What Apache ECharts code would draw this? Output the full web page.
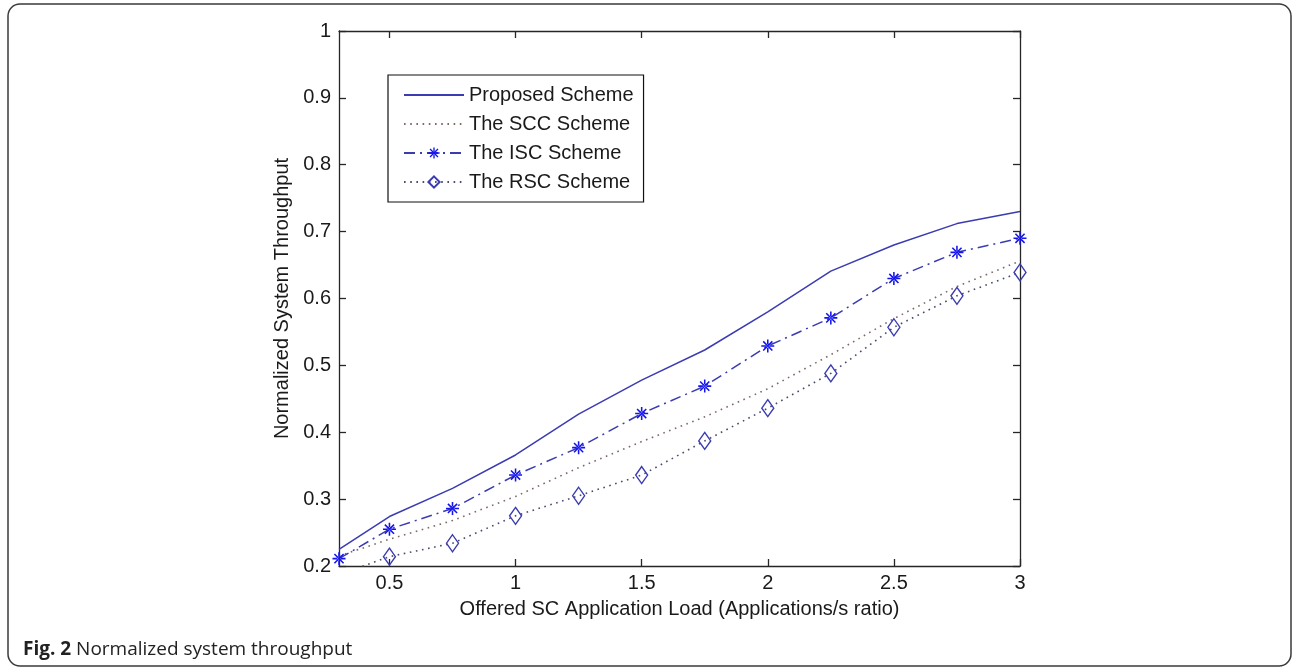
<!DOCTYPE html>
<html>
<head>
<meta charset="utf-8">
<script src="https://cdn.jsdelivr.net/npm/echarts@6/dist/echarts.min.js"></script>
<style>
  html, body { margin: 0; padding: 0; background: #fff; }
  #chart { width: 1293px; height: 669px; }
</style>
</head>
<body>
<div id="chart"></div>
<script>
// ---- data ----
var xValues = [0.3, 0.5, 0.75, 1, 1.25, 1.5, 1.75, 2, 2.25, 2.5, 2.75, 3];
var proposed = [0.225, 0.274, 0.316, 0.366, 0.427, 0.478, 0.523, 0.580, 0.641, 0.680, 0.712, 0.730];
var scc      = [0.215, 0.240, 0.268, 0.304, 0.347, 0.386, 0.423, 0.465, 0.516, 0.570, 0.618, 0.656];
var isc      = [0.211, 0.255, 0.286, 0.336, 0.377, 0.428, 0.469, 0.529, 0.571, 0.630, 0.669, 0.690];
var rsc      = [0.187, 0.214, 0.234, 0.275, 0.305, 0.336, 0.387, 0.436, 0.488, 0.557, 0.604, 0.639];
var seriesNames = ['Proposed Scheme', 'The SCC Scheme', 'The ISC Scheme', 'The RSC Scheme'];
var xTicks = [0.5, 1, 1.5, 2, 2.5, 3];
var yTicks = [0.2, 0.3, 0.4, 0.5, 0.6, 0.7, 0.8, 0.9, 1];
var xTitle = 'Offered SC Application Load (Applications/s ratio)';
var yTitle = 'Normalized System Throughput';
var captionBold = 'Fig. 2';
var captionText = ' Normalized system throughput';

function pairs(ys) { return xValues.map(function (x, i) { return [x, ys[i]]; }); }

var asterisk = 'path://M-10,-1.2L10,-1.2L10,1.2L-10,1.2Z M-1.2,-10L1.2,-10L1.2,10L-1.2,10Z ' +
  'M-7.9,-6.2L6.2,7.9L7.9,6.2L-6.2,-7.9Z M-6.2,7.9L7.9,-6.2L6.2,-7.9L-7.9,6.2Z ' +
  'M-3,0A3,3 0 1,0 3,0A3,3 0 1,0 -3,0Z';

var FONT = '"Liberation Sans", Arial, sans-serif';
var AXC = '#262626';
var BLUE = '#3b3bb2';

function axisBase(pos, showLabel, ticks, isX) {
  return {
    type: 'value',
    position: pos,
    min: isX ? 0.3 : 0.2,
    max: isX ? 3 : 1,
    splitLine: { show: false },
    axisLine: { show: true, onZero: false, lineStyle: { color: AXC, width: 1.3 } },
    axisTick: { show: true, inside: true, length: 7, customValues: ticks, lineStyle: { color: AXC, width: 1.3 } },
    axisLabel: {
      show: showLabel, customValues: ticks, color: '#1a1a1a', fontFamily: FONT, fontSize: 20,
      margin: isX ? 7 : 8,
      formatter: function (v) { return String(+v.toFixed(2)); }
    }
  };
}

var xBottom = axisBase('bottom', true, xTicks, true);
xBottom.name = xTitle;
xBottom.nameLocation = 'middle';
xBottom.nameGap = 33;
xBottom.nameTextStyle = { color: '#1a1a1a', fontFamily: FONT, fontSize: 20 };
var xTop = axisBase('top', false, xTicks, true);
var yLeft = axisBase('left', true, yTicks, false);
yLeft.name = yTitle;
yLeft.nameLocation = 'middle';
yLeft.nameGap = 46;
yLeft.nameTextStyle = { color: '#1a1a1a', fontFamily: FONT, fontSize: 20 };
var yRight = axisBase('right', false, yTicks, false);

var chart = echarts.init(document.getElementById('chart'), null, { renderer: 'canvas' });
chart.setOption({
  animation: false,
  backgroundColor: '#fff',
  grid: { left: 339, top: 31, right: 273, bottom: 103, containLabel: false },
  xAxis: [xBottom, xTop],
  yAxis: [yLeft, yRight],
  legend: {
    orient: 'vertical',
    left: 388, top: 75,
    padding: [10, 10, 10, 15],
    itemWidth: 60, itemHeight: 14, itemGap: 9,
    backgroundColor: '#fff',
    borderColor: '#111', borderWidth: 1.2, borderRadius: 0,
    textStyle: { color: '#1a1a1a', fontFamily: FONT, fontSize: 20, lineHeight: 20 },
    data: [
      { name: seriesNames[0], itemStyle: { opacity: 0 } },
      { name: seriesNames[1], itemStyle: { opacity: 0 } },
      { name: seriesNames[2] },
      { name: seriesNames[3] }
    ]
  },
  series: [
    {
      name: seriesNames[0], type: 'line', data: pairs(proposed), clip: true,
      showSymbol: false, symbol: 'none',
      lineStyle: { color: BLUE, width: 1.5, type: 'solid' },
      itemStyle: { color: BLUE }
    },
    {
      name: seriesNames[1], type: 'line', data: pairs(scc), clip: true,
      showSymbol: false, symbol: 'none',
      lineStyle: { color: '#7d6a66', width: 1.6, type: [1.6, 4.6] },
      itemStyle: { color: '#7d6a66' }
    },
    {
      name: seriesNames[2], type: 'line', data: pairs(isc), clip: true,
      symbol: asterisk, symbolSize: 13,
      lineStyle: { color: BLUE, width: 1.5, type: [11, 5, 2, 5] },
      itemStyle: { color: '#1414f0' }
    },
    {
      name: seriesNames[3], type: 'line', data: pairs(rsc), clip: true,
      symbol: 'diamond', symbolSize: [12, 17],
      lineStyle: { color: '#4a4a6a', width: 1.6, type: [1.6, 4.6] },
      itemStyle: { color: 'rgba(255,255,255,0)', borderColor: BLUE, borderWidth: 1.4 }
    }
  ],
  graphic: [
    {
      type: 'rect', silent: true, z: -1,
      shape: { x: 8, y: 4, width: 1283, height: 662, r: 12 },
      style: { fill: 'none', stroke: '#3a3a3a', lineWidth: 1.5 }
    },
    {
      type: 'text', left: 23, top: 640,
      style: {
        text: '{b|' + captionBold + '}' + captionText,
        fill: '#222', font: '19px "Open Sans", sans-serif',
        rich: { b: { fontWeight: 'bold', fontFamily: '"Open Sans", sans-serif', fontSize: 19, fill: '#222' } }
      }
    }
  ]
});
</script>
</body>
</html>
